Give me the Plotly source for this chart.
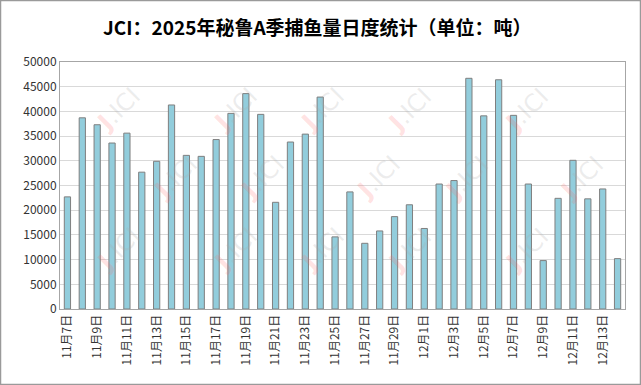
import plotly.graph_objects as go

dates = (["11月%d日" % d for d in range(7, 31)] + ["12月%d日" % d for d in range(1, 15)])
catch = [22700, 38700, 37300, 33600, 35600, 27700, 29900, 41300, 31100, 30900,
         34300, 39600, 43600, 39400, 21600, 33800, 35400, 42900, 14600, 23700,
         13300, 15800, 18700, 21100, 16300, 25300, 26000, 46700, 39100, 46400,
         39200, 25300, 9800, 22400, 30100, 22300, 24300, 10200]
tick_labels = dates[::2]
y_ticks = list(range(0, 50001, 5000))

W, H = 641, 385
L, R, T, B = 60, 16, 62, 76
pw, ph = W - L - R, H - T - B

fig = go.Figure()
fig.add_trace(go.Bar(
    x=dates, y=catch, width=0.42,
    marker=dict(color="#92CDDC", line=dict(color="#7f7f7f", width=1)),
))

font_cjk = "Noto Sans CJK SC, Noto Sans, sans-serif"

# faint watermarks
anns = []
wm_pos = [(88, 80), (205, 80), (322, 80), (440, 80), (557, 80),
          (145, 178), (262, 178), (378, 178), (497, 178), (612, 178),
          (88, 280), (205, 280), (322, 280), (440, 280), (557, 280)]
for (px, py) in wm_pos:
    anns.append(dict(xref="paper", yref="paper",
                     x=(px - L) / pw, y=1 - (py - T) / ph,
                     text="<span style='color:rgba(255,110,110,0.2)'><b>J</b></span><span style='color:rgba(170,170,170,0.22)'>.ICI</span>",
                     showarrow=False, textangle=-45,
                     font=dict(size=24, family="DejaVu Sans, sans-serif")))

fig.update_layout(
    width=W, height=H,
    margin=dict(l=L, r=R, t=T, b=B, autoexpand=False),
    paper_bgcolor="white", plot_bgcolor="white",
    title=dict(text="<b>JCI：2025年秘鲁A季捕鱼量日度统计（单位：吨）</b>",
               x=0.495, xref="container", xanchor="center", y=1 - 28 / H, yanchor="middle",
               font=dict(family=font_cjk, size=19, color="#000000")),
    font=dict(family=font_cjk, size=12, color="#333333"),
    showlegend=False,
    bargap=0.5,
    annotations=anns,
    xaxis=dict(
        tickmode="array", tickvals=tick_labels, ticktext=tick_labels,
        tickangle=-90, showgrid=False, showline=True, linecolor="#a6a6a6",
        mirror=True, ticks="", tickfont=dict(size=12, color="#333333"),
        range=[-0.5, len(dates) - 0.5], automargin=False,
    ),
    yaxis=dict(
        range=[0, 50000], tickvals=y_ticks, ticktext=[str(v) for v in y_ticks],
        showgrid=True, gridcolor="#d9d9d9", gridwidth=1,
        showline=True, linecolor="#a6a6a6", mirror=True, ticks="",
        zeroline=False, tickfont=dict(size=12, color="#333333"), automargin=False,
    ),
    shapes=[dict(type="rect", xref="paper", yref="paper",
                 x0=(-L + 0.5) / pw, x1=1 + (R - 0.5) / pw,
                 y0=(-B + 0.5) / ph, y1=1 + (T - 0.5) / ph,
                 line=dict(color="#9a9a9a", width=1.5), layer="above")],
)

fig.write_html("out.html", config={"displayModeBar": False},
               post_script="document.body.style.margin='0';document.body.style.overflow='hidden';")
